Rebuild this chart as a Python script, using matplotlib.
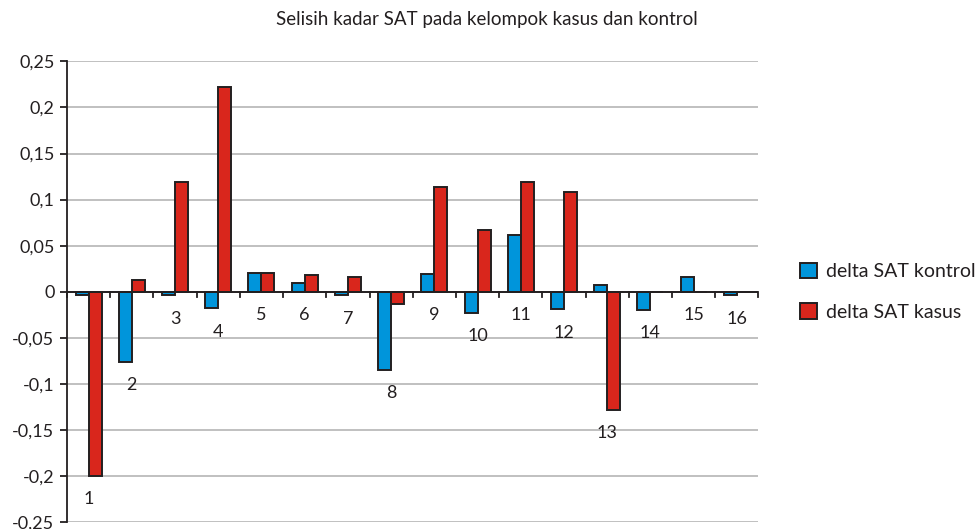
import numpy as np
import matplotlib.pyplot as plt
from matplotlib.ticker import FixedLocator, FuncFormatter

# values
categories = [str(i) for i in range(1, 17)]
delta_kontrol = [-0.004, -0.076, -0.004, -0.018, 0.020, 0.010, -0.004, -0.085,
                 0.019, -0.023, 0.062, -0.019, 0.007, -0.020, 0.016, -0.004]
delta_kasus = [-0.200, 0.013, 0.119, 0.222, 0.020, 0.018, 0.016, -0.013,
               0.114, 0.067, 0.119, 0.108, -0.128, 0.0, 0.0, 0.0]
yticks = [-0.25, -0.2, -0.15, -0.1, -0.05, 0, 0.05, 0.1, 0.15, 0.2, 0.25]

plt.rcParams['font.family'] = ['Lato', 'DejaVu Sans']
edge = '#231f20'

fig = plt.figure(figsize=(9.78, 5.29), dpi=100)
ax = fig.add_axes([0.0685, 0.013, 0.707, 0.871])

x = np.arange(len(categories))
w = 0.3
ax.bar(x - w / 2, delta_kontrol, w, color='#0095db', edgecolor=edge,
       linewidth=1.4, label='delta SAT kontrol', zorder=3)
ax.bar(x + w / 2, delta_kasus, w, color='#d9261c', edgecolor=edge,
       linewidth=1.4, label='delta SAT kasus', zorder=3)

ax.set_xlim(-0.5, len(categories) - 0.5)
ax.set_ylim(-0.25, 0.25)
ax.yaxis.set_major_locator(FixedLocator(yticks))
ax.yaxis.set_major_formatter(FuncFormatter(lambda v, p: ('%g' % round(v, 2)).replace('.', ',')))
ax.grid(axis='y', color='#c0c0c0', linewidth=1.4, zorder=0)
ax.set_axisbelow(True)
ax.tick_params(axis='y', labelsize=13, length=5, width=1.3, color=edge,
               labelcolor='#231f20', pad=4)
ax.set_xticks([])

for s in ['top', 'right', 'bottom']:
    ax.spines[s].set_visible(False)
ax.spines['left'].set_color(edge)
ax.spines['left'].set_linewidth(1.3)

# category axis at zero with ticks at boundaries
ax.axhline(0, color=edge, linewidth=1.4, zorder=4)
for b in np.arange(-0.5, len(categories), 1.0):
    ax.plot([b, b], [0, -0.006], color=edge, linewidth=1.3, zorder=4,
            clip_on=False)

# category labels below the lowest bar end
for i, c in enumerate(categories):
    low = min(0, delta_kontrol[i], delta_kasus[i])
    ax.annotate(c, (i, low), xytext=(0, -11), textcoords='offset points',
                ha='center', va='top', fontsize=13, color='#231f20')

fig.text(0.498, 0.963, 'Selisih kadar SAT pada kelompok kasus dan kontrol',
         ha='center', va='center', fontsize=13.5, color='#231f20')

leg = ax.legend(loc='center left', bbox_to_anchor=(1.035, 0.5), frameon=False,
                fontsize=14, handlelength=0.85, handleheight=0.85,
                labelspacing=1.2, handletextpad=0.5)
for t in leg.get_texts():
    t.set_color('#231f20')

fig.savefig('out.png', dpi=100)
